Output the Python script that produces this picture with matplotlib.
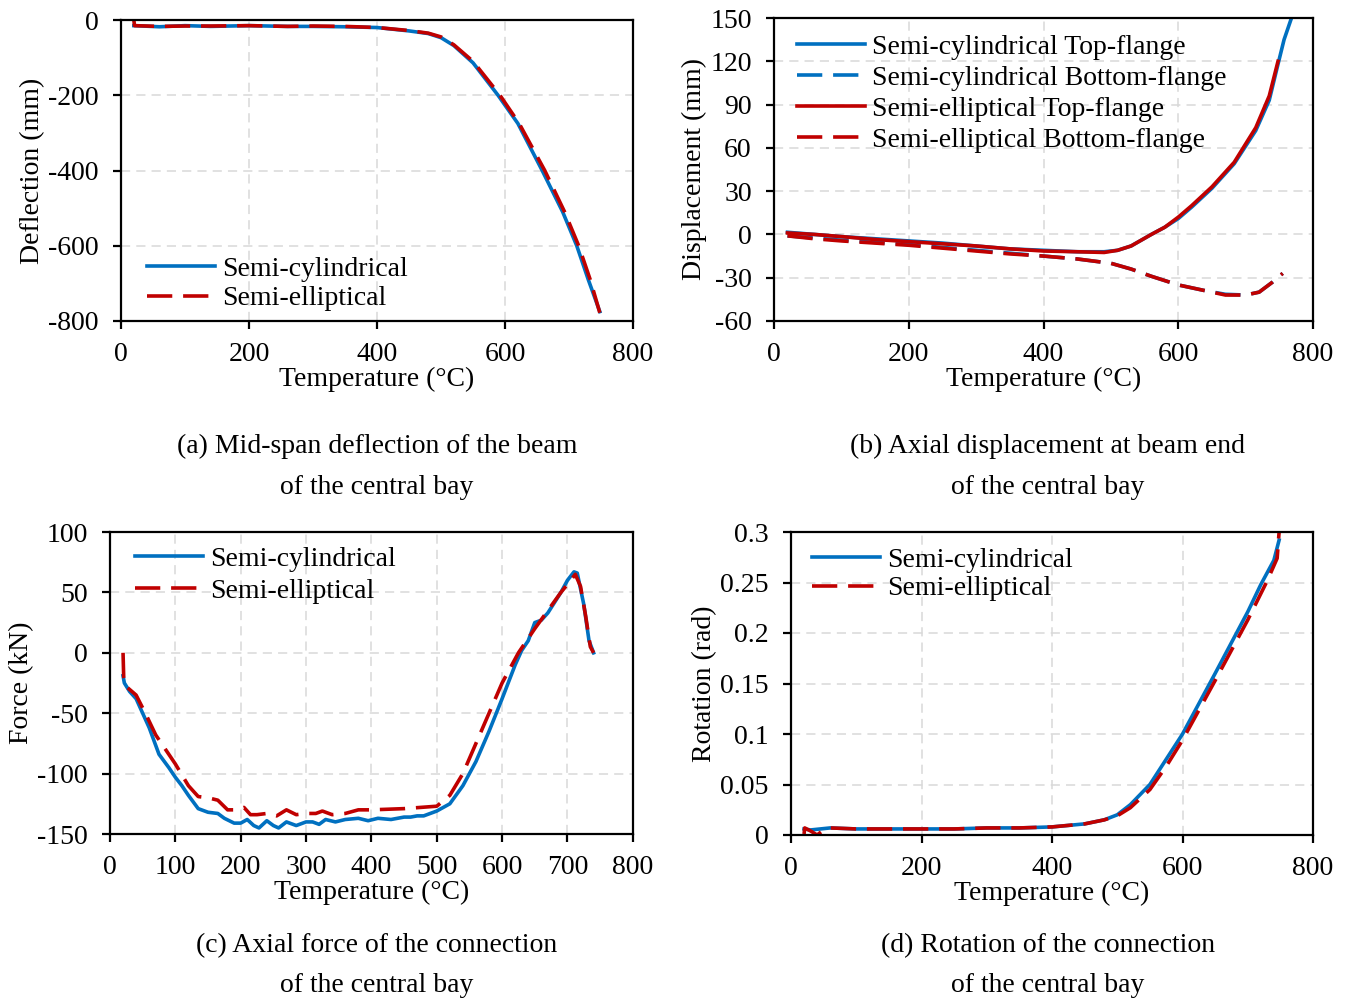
import matplotlib
matplotlib.use('Agg')
import matplotlib.pyplot as plt
import numpy as np

plt.rcParams['font.family'] = ['Liberation Serif', 'DejaVu Serif']
plt.rcParams['axes.unicode_minus'] = False
plt.rcParams['font.size'] = 20

BLUE = '#0070C0'
RED = '#C00000'

'''=================== (a) mid-span deflection =================='''
T_a_cyl = [20, 60, 100, 140, 200, 260, 300, 350, 400, 450, 480, 500, 520, 550,
           589, 620, 658, 690, 712, 730, 748]
D_a_cyl = [-15, -18, -15, -17, -15, -17, -17, -18, -20, -29, -36, -47, -68, -114,
           -200, -275, -400, -510, -600, -690, -775]
T_a_ell = [20, 21, 60, 100, 140, 200, 260, 300, 350, 400, 450, 480, 500, 520, 550,
           592, 622, 662, 693, 715, 733, 748]
D_a_ell = [0, -15, -17, -16, -16, -15, -17, -16, -17, -20, -28, -35, -45, -66, -110,
           -200, -275, -400, -510, -600, -690, -778]

'''=================== (b) axial displacement =================='''
T_b_top_cyl = [20, 60, 100, 150, 200, 250, 300, 350, 400, 450, 490, 510, 530, 560,
               580, 600, 620, 650, 683, 715, 735, 748, 757, 768]
D_b_top_cyl = [1.5, 0, -1.5, -3, -4.5, -6, -8, -10, -11, -12, -12, -11, -8, 0,
               5, 11, 19, 32, 49, 72, 93, 118, 135, 150]
T_b_bot_cyl = [20, 60, 100, 150, 200, 250, 300, 350, 400, 450, 500, 530, 560, 600,
               640, 670, 700, 720, 740, 755]
D_b_bot_cyl = [-1, -2.5, -4, -5.5, -7, -9, -11, -13, -15, -17, -20, -24, -29, -35,
               -39, -41.5, -42, -40, -33, -27]
T_b_top_ell = [20, 60, 100, 150, 200, 250, 300, 350, 400, 450, 490, 510, 530, 560,
               580, 600, 620, 650, 683, 715, 735, 748]
D_b_top_ell = [1, 0, -1.5, -3.5, -5, -6.5, -8, -10, -11.5, -12, -12.5, -11, -8, 0,
               5, 12, 20, 33, 50, 74, 96, 120]
T_b_bot_ell = [20, 60, 100, 150, 200, 250, 300, 350, 400, 450, 500, 530, 560, 600,
               640, 670, 700, 720, 740, 755]
D_b_bot_ell = [-1, -3, -4.5, -6, -7.5, -9.5, -11.5, -13.5, -15, -17, -20, -24, -29, -35,
               -39, -42, -42, -40, -33, -27]

'''=================== (c) axial force =================='''
T_c_cyl = [20, 22, 30, 40, 50, 60, 75, 90, 100, 110, 120, 135, 150, 165, 175, 190, 200,
           210, 220, 228, 240, 250, 258, 270, 285, 300, 310, 320, 330, 345, 360, 380,
           395, 410, 430, 450, 460, 470, 480, 500, 520, 540, 560, 580, 600, 620, 630,
           640, 650, 660, 670, 690, 700, 710, 715, 725, 733, 740]
F_c_cyl = [-19, -25, -32, -38, -50, -62, -84, -95, -103, -110, -118, -129, -132, -133,
           -137, -141, -141, -138, -143, -145, -139, -143, -145, -140, -143, -140, -140,
           -142, -138, -140, -138, -137, -139, -137, -138, -136, -136, -135, -135, -131,
           -125, -110, -90, -65, -38, -10, 2, 10, 25, 27, 33, 50, 60, 67, 66, 40, 10, 0]
T_c_ell = [20, 21, 25, 40, 55, 70, 100, 120, 135, 150, 165, 180, 195, 205, 215, 225,
           240, 255, 270, 285, 300, 315, 325, 340, 360, 380, 400, 450, 500, 520, 540,
           560, 580, 600, 625, 650, 670, 690, 705, 712, 720, 728, 735, 740]
F_c_ell = [0, -20, -28, -35, -51, -68, -92, -110, -119, -120, -122, -130, -130, -128,
           -134, -134, -133, -135, -130, -134, -133, -133, -131, -134, -133, -130, -130,
           -129, -127, -118, -100, -75, -50, -25, 0, 20, 35, 50, 60, 65, 55, 30, 5, 0]

'''=================== (d) rotation =================='''
T_d_cyl = [20, 30, 60, 100, 150, 200, 250, 300, 350, 400, 450, 480, 500, 520, 550,
           575, 600, 650, 700, 720, 740, 748]
R_d_cyl = [0.006, 0.005, 0.007, 0.006, 0.006, 0.006, 0.006, 0.007, 0.007, 0.008, 0.011,
           0.015, 0.020, 0.030, 0.050, 0.075, 0.100, 0.160, 0.221, 0.248, 0.272, 0.292]
T_d_ell = [20, 21, 30, 40, 50, 60, 100, 150, 200, 250, 300, 350, 400, 450, 480, 500,
           520, 550, 575, 600, 650, 700, 730, 745, 748]
R_d_ell = [0.001, 0.007, 0.004, 0.0, 0.005, 0.007, 0.006, 0.006, 0.006, 0.006, 0.007,
           0.007, 0.008, 0.011, 0.015, 0.019, 0.027, 0.045, 0.068, 0.094, 0.153, 0.213,
           0.252, 0.274, 0.300]

LW = 2.6
DASH = (7, 3)


def style_axes(ax, xlim, xticks, ylim, yticks, ylabel):
    ax.set_xlim(*xlim)
    ax.set_ylim(*ylim)
    ax.set_xticks(xticks)
    ax.set_yticks(yticks)
    ax.grid(True, color='#d9d9d9', linestyle=(0, (6, 4)), linewidth=1.1)
    ax.set_axisbelow(True)
    for s in ax.spines.values():
        s.set_linewidth(1.6)
    ax.tick_params(direction='out', length=6, width=1.6, labelsize=20)
    ax.tick_params(axis='y', pad=10)
    ax.tick_params(axis='x', pad=9)
    ax.set_xlabel('Temperature (°C)', fontsize=20, labelpad=0)
    ax.set_ylabel(ylabel, fontsize=20, labelpad=2)


def add_legend(ax, anchor, spacing):
    ax.legend(loc='upper left', bbox_to_anchor=anchor, frameon=False, fontsize=20,
              borderaxespad=0, borderpad=0, handlelength=2.45, handletextpad=0.25,
              labelspacing=spacing)


fig = plt.figure(figsize=(13.51, 10), dpi=100)

ax_a = fig.add_axes([0.0896, 0.679, 0.379, 0.301])
ax_a.plot(T_a_cyl, D_a_cyl, color=BLUE, lw=LW, label='Semi-cylindrical')
ax_a.plot(T_a_ell, D_a_ell, color=RED, lw=LW, dashes=DASH, label='Semi-elliptical')
style_axes(ax_a, (0, 800), np.arange(0, 801, 200), (-800, 0), np.arange(-800, 1, 200),
           'Deflection (mm)')
add_legend(ax_a, (0.051, 0.215), 0.15)

ax_b = fig.add_axes([0.5729, 0.679, 0.399, 0.303])
ax_b.plot(T_b_top_cyl, D_b_top_cyl, color=BLUE, lw=LW, label='Semi-cylindrical Top-flange')
ax_b.plot(T_b_bot_cyl, D_b_bot_cyl, color=BLUE, lw=LW, dashes=DASH,
          label='Semi-cylindrical Bottom-flange')
ax_b.plot(T_b_top_ell, D_b_top_ell, color=RED, lw=LW, label='Semi-elliptical Top-flange')
ax_b.plot(T_b_bot_ell, D_b_bot_ell, color=RED, lw=LW, dashes=DASH,
          label='Semi-elliptical Bottom-flange')
style_axes(ax_b, (0, 800), np.arange(0, 801, 200), (-60, 150), np.arange(-60, 151, 30),
           'Displacement (mm)')
add_legend(ax_b, (0.043, 0.945), 0.2)

ax_c = fig.add_axes([0.0814, 0.166, 0.387, 0.302])
ax_c.plot(T_c_cyl, F_c_cyl, color=BLUE, lw=LW, label='Semi-cylindrical')
ax_c.plot(T_c_ell, F_c_ell, color=RED, lw=LW, dashes=DASH, label='Semi-elliptical')
style_axes(ax_c, (0, 800), np.arange(0, 801, 100), (-150, 100), np.arange(-150, 101, 50),
           'Force (kN)')
add_legend(ax_c, (0.048, 0.953), 0.25)

ax_d = fig.add_axes([0.5855, 0.165, 0.3864, 0.303])
ax_d.plot(T_d_cyl, R_d_cyl, color=BLUE, lw=LW, label='Semi-cylindrical')
ax_d.plot(T_d_ell, R_d_ell, color=RED, lw=LW, dashes=DASH, label='Semi-elliptical')
style_axes(ax_d, (0, 800), np.arange(0, 801, 200), (0, 0.3), [0, 0.05, 0.1, 0.15, 0.2, 0.25, 0.3],
           'Rotation (rad)')
ax_d.set_yticklabels(['0', '0.05', '0.1', '0.15', '0.2', '0.25', '0.3'])
add_legend(ax_d, (0.040, 0.950), 0.12)

captions = [
    (377, 446, '(a) Mid-span deflection of the beam'),
    (377, 488, 'of the central bay'),
    (1048, 446, '(b) Axial displacement at beam end'),
    (1048, 488, 'of the central bay'),
    (377, 946, '(c) Axial force of the connection'),
    (377, 986, 'of the central bay'),
    (1048, 946, '(d) Rotation of the connection'),
    (1048, 986, 'of the central bay'),
]
for cx, cy, txt in captions:
    fig.text(cx / 1351, 1 - cy / 1000, txt, ha='center', va='center', fontsize=20)

fig.savefig('out.png', dpi=100)
